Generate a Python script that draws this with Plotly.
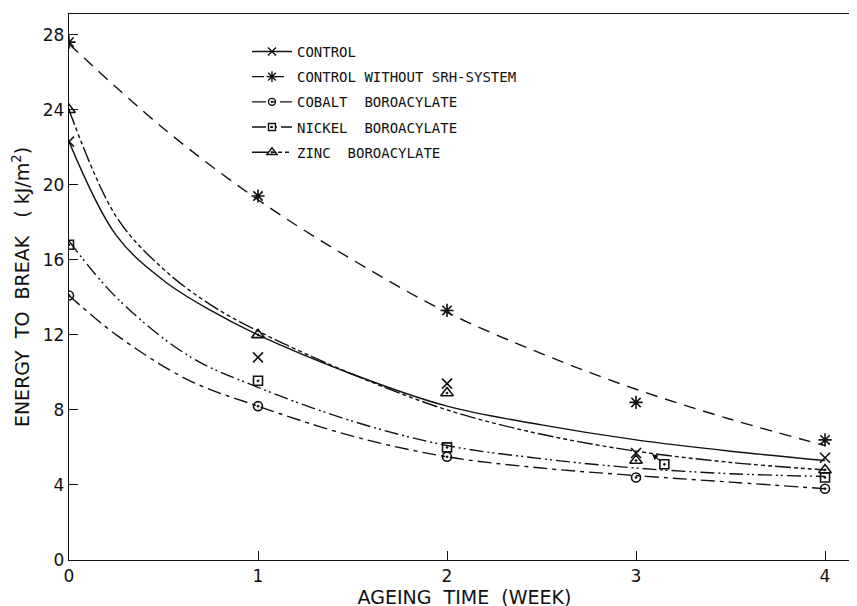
import plotly.graph_objects as go

# ---------------- data ----------------
weeks = [0, 1, 2, 3, 4]
x_ticks = [0, 1, 2, 3, 4]
y_ticks = [0, 4, 8, 12, 16, 20, 24, 28]

# measured points
control_y = [22.3, 10.8, 9.4, 5.7, 5.45]
nosrh_y = [27.6, 19.4, 13.3, 8.4, 6.4]
cobalt_y = [14.1, 8.2, 5.5, 4.4, 3.8]
nickel_x = [0, 1, 2, 3.15, 4]
nickel_y = [16.8, 9.55, 6.0, 5.1, 4.4]
zinc_y = [24.0, 12.0, 8.9, 5.3, 4.8]

# fitted curves
control_cx = [0, 0.25, 0.5, 0.75, 1, 1.5, 2, 2.5, 3, 3.5, 4]
control_cy = [22.3, 17.3, 14.9, 13.3, 12.0, 9.9, 8.2, 7.2, 6.4, 5.8, 5.3]
nosrh_cx = [0, 0.5, 1, 1.5, 2, 2.5, 3, 3.5, 4]
nosrh_cy = [27.5, 23.0, 19.2, 16.0, 13.2, 11.0, 9.1, 7.5, 6.1]
cobalt_cx = [0, 0.25, 0.63, 1, 1.5, 2, 2.5, 3, 3.5, 4]
cobalt_cy = [14.1, 12.0, 9.6, 8.2, 6.6, 5.5, 4.9, 4.5, 4.15, 3.8]
nickel_cx = [0, 0.25, 0.63, 1, 1.5, 2, 2.5, 3, 3.5, 4]
nickel_cy = [17.0, 14.0, 10.9, 9.2, 7.4, 6.1, 5.4, 4.9, 4.6, 4.45]
zinc_cx = [0, 0.25, 0.5, 0.75, 1, 1.5, 2, 2.5, 3, 3.5, 4]
zinc_cy = [24.0, 18.3, 15.5, 13.6, 12.2, 9.9, 8.0, 6.7, 5.8, 5.2, 4.8]

# small arrow near week 3 (tail at nickel point, head on the curve)
arrow_head = (3.06, 5.85)

names = ["CONTROL", "CONTROL WITHOUT SRH-SYSTEM", "COBALT  BOROACYLATE",
         "NICKEL  BOROACYLATE", "ZINC  BOROACYLATE"]

# ---------------- styles ----------------
INK = "#111111"
FONT = "DejaVu Sans"
LEGEND_FONT = "DejaVu Sans Mono"
dashes = ["solid", "12px,8px", "14px,5px,4px,5px", "14px,4px,2px,3px,2px,4px",
          "16px,3px,4px,3px,4px,3px,4px,3px"]
symbols = ["x-thin-open", "asterisk-open", "circle-open-dot", "square-open-dot",
           "triangle-up-open-dot"]
msizes = [10, 11, 9, 9, 11]

curves = [(control_cx, control_cy), (nosrh_cx, nosrh_cy), (cobalt_cx, cobalt_cy),
          (nickel_cx, nickel_cy), (zinc_cx, zinc_cy)]
points = [(weeks, control_y), (weeks, nosrh_y), (weeks, cobalt_y),
          (nickel_x, nickel_y), (weeks, zinc_y)]

fig = go.Figure()
for i in range(5):
    cx, cy = curves[i]
    px, py = points[i]
    grp = "g%d" % i
    fig.add_trace(go.Scatter(x=cx, y=cy, mode="lines", line_shape="spline",
                             line=dict(color=INK, width=1.4, dash=dashes[i]),
                             legendgroup=grp, showlegend=False, hoverinfo="skip"))
    fig.add_trace(go.Scatter(x=px, y=py, mode="markers",
                             marker=dict(symbol=symbols[i], size=msizes[i], color=INK,
                                         line=dict(color=INK, width=1.6)),
                             legendgroup=grp, showlegend=False))
    # legend-only entry
    fig.add_trace(go.Scatter(x=[None], y=[None], mode="lines+markers", name=names[i],
                             legendgroup=grp,
                             line=dict(color=INK, width=1.4, dash=dashes[i]),
                             marker=dict(symbol=symbols[i], size=msizes[i] - 2, color=INK,
                                         line=dict(color=INK, width=1.4))))

fig.add_annotation(x=arrow_head[0], y=arrow_head[1], ax=nickel_x[3], ay=nickel_y[3],
                   xref="x", yref="y", axref="x", ayref="y", text=" ", showarrow=True,
                   arrowhead=2, arrowsize=1, arrowwidth=1.2, arrowcolor=INK, standoff=6)

fig.update_layout(
    width=857, height=606,
    paper_bgcolor="white", plot_bgcolor="white",
    margin=dict(l=61, r=5, t=6, b=54),
    font=dict(family=FONT, color=INK, size=15),
    legend=dict(x=0.225, y=0.96, xanchor="left", yanchor="top",
                traceorder="grouped", tracegroupgap=4,
                bgcolor="rgba(0,0,0,0)", font=dict(size=14, family=LEGEND_FONT, color=INK),
                itemwidth=40),
    xaxis=dict(range=[0, 4.185], tickvals=x_ticks, ticks="inside", ticklen=9,
               tickcolor=INK, showline=True, linecolor=INK, linewidth=1.4, mirror=True,
               showgrid=False, zeroline=False, tickfont=dict(size=17),
               title=dict(text="AGEING  TIME  (WEEK)", font=dict(size=19), standoff=3)),
    yaxis=dict(range=[0, 29.1], tickvals=y_ticks, ticks="inside", ticklen=9,
               tickcolor=INK, showline=True, linecolor=INK, linewidth=1.4, mirror=True,
               showgrid=False, zeroline=False, tickfont=dict(size=17),
               title=dict(text="ENERGY  TO  BREAK   ( kJ/m<sup>2</sup>)", font=dict(size=19),
                          standoff=8)),
)

fig.write_html("out.html")
